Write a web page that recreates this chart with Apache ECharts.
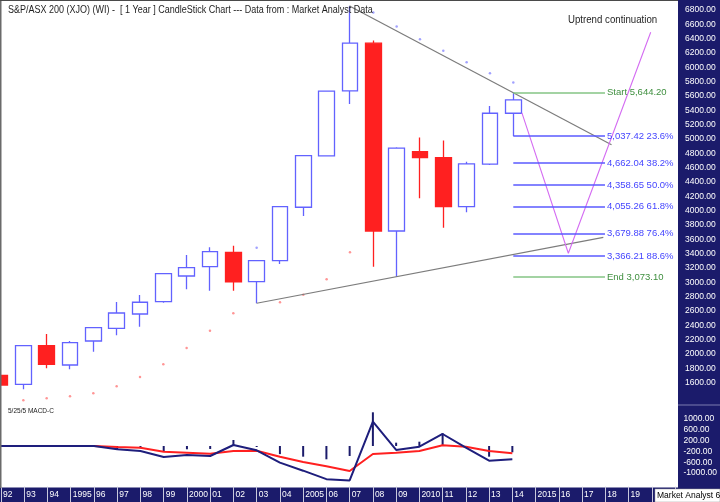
<!DOCTYPE html>
<html>
<head>
<meta charset="utf-8">
<script src="https://cdn.jsdelivr.net/npm/echarts@6/dist/echarts.min.js"></script>
<style>
  html, body { margin: 0; padding: 0; background: #fff; }
  #chart { width: 720px; height: 502px; }
</style>
</head>
<body>
<div id="chart"></div>
<script>
// yearly candles
const years  = [1992, 1993, 1994, 1995, 1996, 1997, 1998, 1999, 2000, 2001, 2002, 2003, 2004, 2005, 2006, 2007, 2008, 2009, 2010, 2011, 2012, 2013, 2014]
const opens  = [1703, 1578, 2116, 1847, 2182, 2359, 2558, 2730, 3088, 3218, 3419, 3009, 3302, 4047, 4762, 5669, 6335, 3716, 4822, 4739, 4055, 4647, 5358]
const closes = [1568, 2116, 1857, 2158, 2367, 2572, 2722, 3121, 3204, 3427, 3005, 3302, 4055, 4767, 5667, 6335, 3716, 4870, 4739, 4055, 4651, 5358, 5544]
const lows   = [1555, 1508, 1801, 1787, 2032, 2261, 2381, 2716, 2903, 2883, 2883, 2708, 3256, 3925, 4753, 5488, 3218, 3079, 4172, 3762, 3977, 4637, 5039]
const highs  = [1710, 2120, 2279, 2182, 2370, 2726, 2823, 3125, 3381, 3489, 3511, 3306, 4058, 4770, 5670, 6851, 6371, 4884, 5018, 4976, 4683, 5460, 5644]

// parabolic SAR dots (below = red, above = blue)
const sarBelow = [null, 1354, 1382, 1410, 1452, 1550, 1680, 1857, 2084, 2325, 2568, null, 2722, 2828, 3042, 3419, null, null, null, null, null, null, null]
const sarAbove = [null, null, null, null, null, null, null, null, null, null, null, 3483, null, null, null, null, 6761, 6566, 6390, 6231, 6070, 5916, 5785]

// MACD panel
const macdLine   = [0, 0, 0, 0, 0, -122, -184, -405, -331, -368, 37, -158, -615, -910, -1223, -1270, 895, -147, -26, 442, -63, -541, -490]
const signalLine = [0, 0, 0, 0, 0, -37, -63, -210, -247, -284, -184, -173, -394, -589, -748, -921, -295, -247, -184, 26, -26, -184, -269]
const histogram  = [0, 0, 0, 0, 0, -122, -85, -210, -122, -110, 221, -37, -300, -394, -490, -368, 1241, 122, 158, 468, -20, -394, -232]

// drawn lines
const upperTrend = [[2007, 6851], [2018.21, 4918]]
const lowerTrend = [[2003, 2708], [2017.86, 3626]]
const projection = [[2014.37, 5362], [2016.36, 3405], [2019.89, 6488]]

// retracement levels
const fibStartYear = 2014
const fibEndYear = 2017.93
const fibValues = [5644.20, 5037.42, 4662.04, 4358.65, 4055.26, 3679.88, 3366.21, 3073.10]
const fibLabels = ['Start 5,644.20', '5,037.42 23.6%', '4,662.04 38.2%', '4,358.65 50.0%', '4,055.26 61.8%', '3,679.88 76.4%', '3,366.21 88.6%', 'End 3,073.10']

const FONT = 'Liberation Sans, Arial, sans-serif'
const NAVY = '#1b1b6b'
const BLUE = '#6262ff'
const RED = '#ff2020'
const X_MIN = 1992
const X_MAX = 2021.06

const chart = echarts.init(document.getElementById('chart'))

function yearLabel(v) {
  if (v > 2019) return ''
  return v % 5 === 0 ? String(v) : String(v).slice(2)
}

const fibMarks = fibValues.map((v, i) => {
  const green = i === 0 || i === fibValues.length - 1
  return [
    {
      coord: [fibStartYear, v],
      lineStyle: { color: green ? '#84c484' : '#5a5aff', width: 1.5, type: 'solid', opacity: 1 },
      label: { show: true, position: 'end', distance: 2, formatter: fibLabels[i],
        color: green ? '#3f8f3f' : '#4545ff', fontSize: 9.5, fontFamily: FONT }
    },
    { coord: [fibEndYear, v] }
  ]
})

chart.setOption({
  animation: false,
  backgroundColor: '#fff',
  grid: [
    { left: 0, right: 42, top: 0, height: 411.4 },
    { left: 0, right: 42, top: 405, height: 81.7 }
  ],
  xAxis: [
    { type: 'value', gridIndex: 0, min: X_MIN, max: X_MAX, show: false },
    {
      type: 'value', gridIndex: 1, min: X_MIN, max: X_MAX, interval: 1,
      axisLine: { show: false, onZero: false },
      axisTick: { show: true, length: 16, lineStyle: { color: '#c8c8dc', width: 1 } },
      splitLine: { show: false },
      axisLabel: {
        formatter: yearLabel, align: 'left', padding: [0, 0, 0, 2], margin: 3,
        color: '#fff', fontSize: 8.5, fontFamily: FONT, showMinLabel: true, showMaxLabel: false
      }
    }
  ],
  yAxis: [
    {
      type: 'value', gridIndex: 0, position: 'right', min: 1200, max: 6937, interval: 200,
      axisLine: { show: false }, axisTick: { show: false }, splitLine: { show: false },
      axisLabel: {
        margin: 7, color: '#fff', fontSize: 8.5, fontFamily: FONT,
        formatter: v => (v >= 1600 && v % 200 === 0) ? v.toFixed(2) : ''
      }
    },
    {
      type: 'value', gridIndex: 1, position: 'right', min: -1500, max: 1510, interval: 100,
      axisLine: { show: false }, axisTick: { show: false }, splitLine: { show: false },
      axisLabel: {
        margin: 7, color: '#fff', fontSize: 8.5, fontFamily: FONT,
        formatter: v => (Math.abs(v) <= 1000 && (v - 200) % 400 === 0) ? v.toFixed(2) : ''
      }
    }
  ],
  series: [
    {
      type: 'candlestick', xAxisIndex: 0, yAxisIndex: 0,
      barWidth: 16,
      encode: { x: 0, y: [1, 2, 3, 4] },
      data: years.map((y, i) => [y, opens[i], closes[i], lows[i], highs[i]]),
      itemStyle: { color: '#ffffff', color0: RED, borderColor: BLUE, borderColor0: RED, borderWidth: 1.3 }
    },
    {
      type: 'scatter', xAxisIndex: 0, yAxisIndex: 0, symbolSize: 2.5,
      itemStyle: { color: '#ff7a7a' },
      data: years.map((y, i) => sarBelow[i] == null ? null : [y, sarBelow[i]]).filter(d => d)
    },
    {
      type: 'scatter', xAxisIndex: 0, yAxisIndex: 0, symbolSize: 2.5,
      itemStyle: { color: '#8a8aff' },
      data: years.map((y, i) => sarAbove[i] == null ? null : [y, sarAbove[i]]).filter(d => d)
    },
    {
      type: 'line', xAxisIndex: 0, yAxisIndex: 0, showSymbol: false, data: upperTrend,
      lineStyle: { color: '#7c7c7c', width: 1.2 }
    },
    {
      type: 'line', xAxisIndex: 0, yAxisIndex: 0, showSymbol: false, data: lowerTrend,
      lineStyle: { color: '#7c7c7c', width: 1.2 }
    },
    {
      type: 'line', xAxisIndex: 0, yAxisIndex: 0, showSymbol: false, data: projection,
      lineStyle: { color: '#d46cf2', width: 1.1 }
    },
    {
      type: 'line', xAxisIndex: 0, yAxisIndex: 0, data: [],
      markLine: {
        silent: true, symbol: 'none', animation: false,
        lineStyle: { color: '#5a5aff', width: 1.5, type: 'solid', opacity: 1 },
        emphasis: { disabled: true },
        data: fibMarks
      }
    },
    // MACD
    {
      type: 'bar', xAxisIndex: 1, yAxisIndex: 1, barWidth: 2,
      itemStyle: { color: NAVY },
      data: years.map((y, i) => [y, histogram[i]])
    },
    {
      type: 'line', xAxisIndex: 1, yAxisIndex: 1, showSymbol: false,
      lineStyle: { color: RED, width: 2 },
      data: years.map((y, i) => [y, signalLine[i]])
    },
    {
      type: 'line', xAxisIndex: 1, yAxisIndex: 1, showSymbol: false,
      lineStyle: { color: '#1e1e7c', width: 2 },
      data: years.map((y, i) => [y, macdLine[i]])
    }
  ],
  graphic: [
    { type: 'rect', z: -10, shape: { x: 678, y: 0, width: 42, height: 488 }, style: { fill: NAVY } },
    { type: 'rect', z: -10, shape: { x: 0, y: 487.5, width: 720, height: 15 }, style: { fill: NAVY } },
    { type: 'line', z: -5, shape: { x1: 678, y1: 405, x2: 720, y2: 405 }, style: { stroke: '#7c7cb0', lineWidth: 1 } },
    { type: 'line', z: 5, shape: { x1: 0.75, y1: 0, x2: 0.75, y2: 488 }, style: { stroke: '#6a6a6a', lineWidth: 1.5 } },
    { type: 'line', z: 5, shape: { x1: 0, y1: 0.5, x2: 678, y2: 0.5 }, style: { stroke: '#4a4a4a', lineWidth: 1 } },
    {
      type: 'text', z: 20, x: 8, y: 10, scaleX: 0.9,
      style: { text: 'S&P/ASX 200 (XJO) (WI) -  [ 1 Year ] CandleStick Chart --- Data from : Market Analyst Data',
        fill: '#1e1e1e', fontSize: 10, fontFamily: FONT, verticalAlign: 'middle' }
    },
    {
      type: 'text', z: 20, x: 568, y: 20, scaleX: 0.92,
      style: { text: 'Uptrend continuation', fill: '#1e1e1e', fontSize: 10.5, fontFamily: FONT, verticalAlign: 'middle' }
    },
    {
      type: 'text', z: 20, x: 8, y: 411,
      style: { text: '5/25/5 MACD-C', fill: '#222', fontSize: 6.5, fontFamily: FONT, verticalAlign: 'middle' }
    },
    { type: 'rect', z: 50, shape: { x: 655, y: 489, width: 65, height: 13 }, style: { fill: '#fff', stroke: '#9a9a9a', lineWidth: 0.5 } },
    {
      type: 'text', z: 51, x: 657, y: 495.5,
      style: { text: 'Market Analyst 6', fill: '#000', fontSize: 8.5, fontFamily: FONT, verticalAlign: 'middle' }
    }
  ]
})
</script>
</body>
</html>
